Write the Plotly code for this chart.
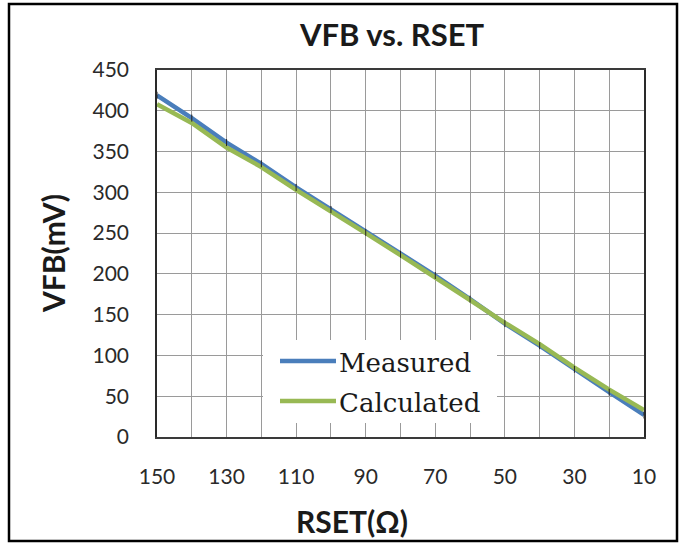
import plotly.graph_objects as go

# RSET sweep (ohms) and feedback voltage readings (mV)
rset = [150, 140, 130, 120, 110, 100, 90, 80, 70, 60, 50, 40, 30, 20, 10]
vfb_measured = [419, 391, 361, 335, 306, 279, 251, 224, 198, 169, 139, 112, 83, 55, 27]
vfb_calculated = [408, 385, 355, 331, 303, 277, 250, 223, 196, 168, 140, 114, 85, 58, 33]

x_grid = [150, 140, 130, 120, 110, 100, 90, 80, 70, 60, 50, 40, 30, 20, 10]
x_labels = ["150", "", "130", "", "110", "", "90", "", "70", "", "50", "", "30", "", "10"]
y_ticks = [0, 50, 100, 150, 200, 250, 300, 350, 400, 450]

series_names = ["Measured", "Calculated"]
series_colors = ["#4A7EBB", "#98B954"]

W, H = 683, 543
L, R, T, B = 157, 39, 70, 106
PW, PH = W - L - R, H - T - B


def px(xp):
    return (xp - L) / PW


def py(yp):
    return (H - B - yp) / PH


SANS = "Lato, 'Open Sans', sans-serif"
SERIF = "'DejaVu Serif', 'Liberation Serif', serif"

fig = go.Figure()
fig.add_trace(go.Scatter(x=rset, y=vfb_measured, mode="lines", name=series_names[0],
                         line=dict(color=series_colors[0], width=4.5)))
fig.add_trace(go.Scatter(x=rset, y=vfb_calculated, mode="lines", name=series_names[1],
                         line=dict(color=series_colors[1], width=4.5)))
# small point ticks on the measured series
fig.add_trace(go.Scatter(x=rset, y=vfb_measured, mode="markers", showlegend=False,
                         marker=dict(symbol="line-ns", size=5,
                                     line=dict(color="#222222", width=1))))

fig.update_layout(
    width=W, height=H,
    margin=dict(l=L, r=R, t=T, b=B),
    paper_bgcolor="white", plot_bgcolor="white",
    showlegend=False,
    font=dict(family=SANS, color="#1a1a1a"),
)

fig.update_xaxes(
    range=[150, 10], tickmode="array", tickvals=x_grid, ticktext=x_labels,
    showgrid=True, gridcolor="#9a9a9a", gridwidth=1,
    showline=True, linecolor="#3a3a3a", linewidth=1.5, mirror=True,
    ticks="", ticklabelstandoff=20, tickfont=dict(family=SANS, size=21, color="#2a2a2a"),
    zeroline=False,
)
fig.update_yaxes(
    range=[0, 450], tickmode="array", tickvals=y_ticks,
    showgrid=True, gridcolor="#9a9a9a", gridwidth=1,
    showline=True, linecolor="#2a2a2a", linewidth=1.5, mirror=True,
    ticks="", ticklabelstandoff=22, tickfont=dict(family=SANS, size=21, color="#2a2a2a"),
    zeroline=False,
)

shapes = [
    # outer chart frame
    dict(type="rect", xref="paper", yref="paper",
         x0=px(9), x1=px(677), y0=py(541), y1=py(4),
         line=dict(color="black", width=2.5), layer="above"),
    # legend box
    dict(type="rect", xref="paper", yref="paper",
         x0=px(263), x1=px(497), y0=py(423), y1=py(340),
         fillcolor="white", line=dict(width=0), layer="above"),
    dict(type="line", xref="paper", yref="paper",
         x0=px(280), x1=px(336), y0=py(361), y1=py(361),
         line=dict(color=series_colors[0], width=4.5), layer="above"),
    dict(type="line", xref="paper", yref="paper",
         x0=px(280), x1=px(336), y0=py(401), y1=py(401),
         line=dict(color=series_colors[1], width=4.5), layer="above"),
]

annotations = [
    dict(text="<b>VFB vs. RSET</b>", xref="paper", yref="paper",
         x=px(392), y=py(34), xanchor="center", yanchor="middle",
         showarrow=False, font=dict(family=SANS, size=31, color="#1a1a1a")),
    dict(text="<b>RSET(Ω)</b>", xref="paper", yref="paper",
         x=px(352), y=py(521), xanchor="center", yanchor="middle",
         showarrow=False, font=dict(family=SANS, size=30, color="#1a1a1a")),
    dict(text="<b>VFB(mV)</b>", xref="paper", yref="paper",
         x=px(53), y=py(254), xanchor="center", yanchor="middle", textangle=-90,
         showarrow=False, font=dict(family=SANS, size=30, color="#1a1a1a")),
    dict(text=series_names[0], xref="paper", yref="paper",
         x=px(337), y=py(363), xanchor="left", yanchor="middle",
         showarrow=False, font=dict(family=SERIF, size=26, color="#1a1a1a")),
    dict(text=series_names[1], xref="paper", yref="paper",
         x=px(337), y=py(403), xanchor="left", yanchor="middle",
         showarrow=False, font=dict(family=SERIF, size=26, color="#1a1a1a")),
]

fig.update_layout(shapes=shapes, annotations=annotations)
fig.write_html("out.html")
